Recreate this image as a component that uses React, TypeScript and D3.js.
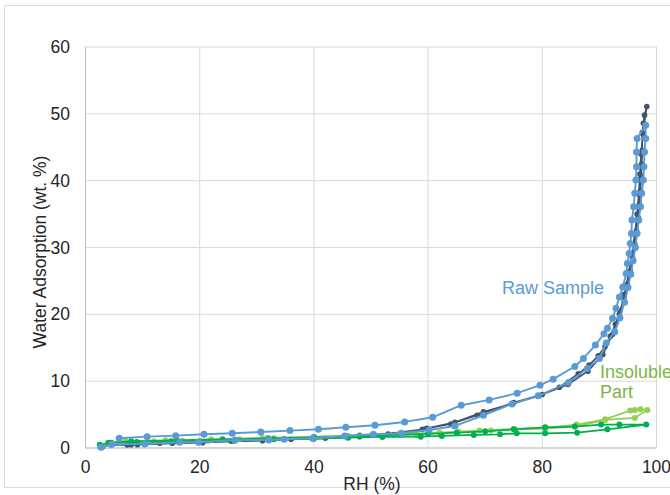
import React from "react";
import * as d3 from "d3";

const xTicks = [0, 20, 40, 60, 80, 100];
const yTicks = [0, 10, 20, 30, 40, 50, 60];

// Raw sample, run 1 (adsorption then desorption) [RH %, wt. %]
const rawBlue: [number, number][] = [
  [2.7, 0.1], [4.6, 0.55], [10.4, 0.6], [16.5, 0.85], [19.8, 0.85], [26.2, 1.2], [32.1, 1.2],
  [34.8, 1.3], [39.8, 1.45], [45.4, 1.8], [50.4, 2.05], [55.3, 2.2], [60.2, 2.7], [64.7, 3.3],
  [69.7, 4.9], [74.7, 6.6], [79.3, 7.8], [84.6, 9.8], [87.9, 11.9], [90.0, 13.4], [91.2, 15.7],
  [92.7, 17.4], [93.6, 19.5], [94.4, 21.8], [95.0, 24.0], [95.5, 26.0], [95.9, 28.0], [96.3, 30.0],
  [96.6, 32.1], [96.9, 34.1], [97.2, 36.1], [97.4, 38.1], [97.7, 40.1], [97.8, 42.1], [97.9, 44.3],
  [98.1, 46.3], [98.1, 48.3],
  [96.6, 46.3], [96.5, 44.3], [96.5, 42.1], [96.4, 40.1], [96.2, 38.1], [96.0, 36.1], [95.7, 34.1],
  [95.6, 32.1], [95.4, 30.6], [95.2, 29.1], [94.9, 27.6], [94.7, 26.1], [94.1, 24.1], [93.5, 22.6],
  [92.9, 20.9], [92.3, 19.4], [91.4, 17.9], [90.8, 17.1], [89.3, 15.4], [87.2, 13.4], [85.7, 12.2],
  [81.9, 10.3], [79.6, 9.4], [75.6, 8.2], [70.7, 7.2], [65.8, 6.4], [60.8, 4.6], [55.9, 3.9],
  [50.7, 3.4], [45.6, 3.1], [40.8, 2.8], [35.8, 2.6], [30.7, 2.4], [25.7, 2.2], [20.75, 2.05],
  [15.8, 1.85], [10.8, 1.7], [5.9, 1.45],
];

// Raw sample, run 2
const rawDark: [number, number][] = [
  [3.0, 0.2], [4.5, 0.5], [7.3, 0.45], [9.1, 0.5], [15.2, 0.7], [20.5, 0.8], [25.5, 1.0],
  [31, 1.1], [36, 1.3], [42, 1.45], [48, 1.7], [54, 2.0], [59.75, 2.94], [64.7, 3.84],
  [69.7, 5.4], [74.7, 6.6], [79.3, 7.8], [83, 9.1], [86.3, 11.1], [88.2, 12.4], [89.8, 13.8],
  [91, 15.2], [91.9, 16.7], [92.8, 18.5], [93.6, 20.5], [94.3, 22.5], [94.9, 24.5], [95.4, 26.5],
  [95.8, 28.5], [96.2, 30.5], [96.5, 32.5], [96.8, 34.5], [97.0, 36.5], [97.2, 38.5], [97.3, 40.5],
  [97.4, 42.5], [97.5, 44.5], [97.5, 47.2], [97.7, 48.6], [97.9, 49.8], [98.3, 51.1],
  [97.6, 47.0], [97.3, 44.0], [97.1, 41.0], [96.9, 38.0], [96.6, 35.0], [96.2, 32.0], [95.7, 29.0],
  [95.1, 26.0], [94.4, 23.0], [93.5, 20.0], [92.3, 17.0], [90.6, 14.0], [88.0, 11.5], [84.5, 9.5],
  [80, 8.0], [75, 6.8], [68.6, 4.9], [64, 3.6], [59, 2.8], [53, 2.1], [46, 1.8], [40, 1.5],
  [33, 1.3], [26, 1.1], [20, 0.9], [13, 0.7], [8, 0.5],
];

// Insoluble part, run 1
const insolLight: [number, number][] = [
  [2.8, 0.3], [4.2, 0.7], [8, 0.9], [12, 1.0], [17, 1.1], [22, 1.2], [27, 1.3], [33, 1.45],
  [40, 1.55], [46, 1.7], [52, 1.85], [58, 2.0], [65.3, 2.45], [71, 2.6], [75.2, 2.8], [80.5, 2.9],
  [85.7, 3.2], [91, 4.2], [96.2, 4.5], [98.4, 5.7],
  [97.2, 5.8], [96.2, 5.7], [95.4, 5.6], [91, 4.3], [86, 3.5], [80.5, 3.0], [75, 2.85], [69, 2.6],
  [62, 2.3], [55, 2.1], [48, 1.9], [40, 1.7], [31, 1.5], [22, 1.3], [14, 1.15], [7, 1.0],
];

// Insoluble part, run 2
const insolGreen: [number, number][] = [
  [2.5, 0.5], [4.5, 0.8], [9, 0.9], [15, 1.0], [20, 1.0], [26, 1.1], [33, 1.3], [40, 1.4],
  [46, 1.55], [52, 1.65], [58.7, 1.7], [62.4, 1.8], [68, 1.95], [72.6, 2.05], [75.5, 2.2],
  [80.5, 2.2], [86.1, 2.3], [91.4, 2.8], [98.2, 3.5],
  [93.5, 3.5], [90.3, 3.5], [85.7, 3.2], [80.5, 3.1], [75, 2.8], [70, 2.5], [65, 2.3], [60, 2.1],
  [55, 2.0], [48, 1.8], [40, 1.6], [32, 1.45], [24, 1.3], [16, 1.15], [8, 1.0], [4, 0.8],
];

const labels = { raw: "Raw Sample", insol1: "Insoluble", insol2: "Part", xTitle: "RH (%)", yTitle: "Water Adsorption (wt. %)" };

export default function App() {
  const W = 670, H = 495;
  const x = d3.scaleLinear().domain([0, 100]).range([85.5, 656.5]);
  const y = d3.scaleLinear().domain([0, 60]).range([448, 47]);
  const line = d3.line<[number, number]>().x(d => x(d[0])).y(d => y(d[1]));
  const font = "'Liberation Sans', Arial, sans-serif";
  const fs = 17.5;

  const series = [
    { data: rawDark, color: "#44546A", r: 2.8, w: 1.7 },
    { data: insolLight, color: "#92D050", r: 3, w: 1.7 },
    { data: insolGreen, color: "#00B050", r: 3, w: 1.7 },
    { data: rawBlue, color: "#5B9BD5", r: 3.5, w: 1.9 },
  ];

  return (
    <svg width={W} height={H} style={{ position: "absolute", left: 0, top: 0, background: "#fff" }}>
      <rect x={4.5} y={5.5} width={700} height={482} fill="#fff" stroke="#D9D9D9" />
      {yTicks.map(t => (
        <line key={"gy" + t} x1={x(0)} x2={x(100)} y1={y(t)} y2={y(t)} stroke="#D9D9D9" strokeWidth={1} />
      ))}
      {xTicks.map(t => (
        <line key={"gx" + t} x1={x(t)} x2={x(t)} y1={y(0)} y2={y(60)} stroke="#D9D9D9" strokeWidth={1} />
      ))}
      <line x1={x(0)} x2={x(100)} y1={y(0)} y2={y(0)} stroke="#BFBFBF" />
      <line x1={x(0)} x2={x(0)} y1={y(0)} y2={y(60)} stroke="#BFBFBF" />
      {yTicks.map(t => (
        <text key={"ty" + t} x={70} y={y(t)} dy="0.35em" textAnchor="end" fontSize={fs} fontFamily={font} fill="#262626">{t}</text>
      ))}
      {xTicks.map(t => (
        <text key={"tx" + t} x={x(t)} y={467} dy="0.35em" textAnchor="middle" fontSize={fs} fontFamily={font} fill="#262626">{t}</text>
      ))}
      <text x={372} y={484} dy="0.35em" textAnchor="middle" fontSize={fs} fontFamily={font} fill="#262626">{labels.xTitle}</text>
      <text transform={`translate(40,252) rotate(-90)`} dy="0.35em" textAnchor="middle" fontSize={fs} fontFamily={font} fill="#262626">{labels.yTitle}</text>
      {series.map((s, i) => (
        <g key={"s" + i}>
          <path d={line(s.data) || ""} fill="none" stroke={s.color} strokeWidth={s.w} strokeLinejoin="round" />
          {s.data.map((d, j) => (
            <circle key={j} cx={x(d[0])} cy={y(d[1])} r={s.r} fill={s.color} />
          ))}
        </g>
      ))}
      <text x={502} y={288} dy="0.35em" fontSize={18} fontFamily={font} fill="#5B9BD5">{labels.raw}</text>
      <text x={600} y={372} dy="0.35em" fontSize={18} fontFamily={font} fill="#7AB648">{labels.insol1}</text>
      <text x={600} y={392} dy="0.35em" fontSize={18} fontFamily={font} fill="#7AB648">{labels.insol2}</text>
    </svg>
  );
}
